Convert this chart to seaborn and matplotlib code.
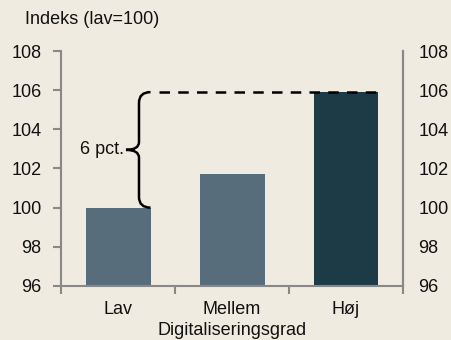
import matplotlib
matplotlib.use("Agg")
import matplotlib.pyplot as plt
from matplotlib.path import Path
from matplotlib.patches import PathPatch
import seaborn as sns
import pandas as pd

categories = ["Lav", "Mellem", "Høj"]
values = [100.0, 101.7, 105.9]
bar_colors = ["#586D7C", "#586D7C", "#1D3A47"]
yticks = [96, 98, 100, 102, 104, 106, 108]
gap_label = "6 pct."

bg = "#F0EBE0"
fs = 13
sns.set_theme(style="white")
plt.rcParams["font.family"] = ["Liberation Sans", "DejaVu Sans"]

df = pd.DataFrame({"grad": categories, "indeks": values})

fig = plt.figure(figsize=(4.52, 3.40), dpi=100, facecolor=bg)
ax = fig.add_axes([0.135, 0.159, 0.7566, 0.691])
ax.set_facecolor(bg)

sns.barplot(data=df, x="grad", y="indeks", hue="grad", palette=bar_colors,
            width=0.57, legend=False, ax=ax, saturation=1, edgecolor="none")

ax.set_ylim(96, 108)
ax.set_xlim(-0.5, 2.5)
ax.set_yticks(yticks)
ax.set_yticklabels([str(t) for t in yticks], fontsize=fs)
ax.set_xticks(range(len(categories)))
ax.set_xticklabels(categories, fontsize=fs)
ax.set_xticks([-0.5, 0.5, 1.5, 2.5], minor=True)
ax.tick_params(axis="x", which="major", length=0, pad=11, colors="#111111")
ax.tick_params(axis="x", which="minor", length=6, width=1.5, color="#888888",
               direction="out", bottom=True)
ax.tick_params(axis="y", length=6, width=1.5, color="#888888", direction="out",
               pad=8, labelcolor="#111111", left=True)
ax.set_xlabel("Digitaliseringsgrad", fontsize=fs, labelpad=3, color="#111111")
ax.set_ylabel("")

ax.spines["top"].set_visible(False)
for side in ["left", "bottom", "right"]:
    ax.spines[side].set_color("#888888")
    ax.spines[side].set_linewidth(1.5)

# right-hand axis mirrors the left scale
ax2 = ax.twinx()
ax2.set_ylim(96, 108)
ax2.set_yticks(yticks)
ax2.set_yticklabels([str(t) for t in yticks], fontsize=fs, color="#111111")
ax2.tick_params(axis="y", length=0, pad=11)
for side in ["top", "left", "bottom"]:
    ax2.spines[side].set_visible(False)
ax2.spines["right"].set_color("#888888")
ax2.spines["right"].set_linewidth(1.5)

# brace spanning the gap between Lav and Høj
low, high = values[0], values[2]
mid = (low + high) / 2
xv, xe, xt = 0.184, 0.285, 0.07
ry, rt = 0.55, 0.4
verts = [
    (xe, high), (xv, high), (xv, high - ry),
    (xv, mid + rt),
    (xv, mid), (xt, mid),
    (xv, mid), (xv, mid - rt),
    (xv, low + ry),
    (xv, low), (xe, low),
]
codes = [Path.MOVETO, Path.CURVE3, Path.CURVE3,
         Path.LINETO,
         Path.CURVE3, Path.CURVE3,
         Path.CURVE3, Path.CURVE3,
         Path.LINETO,
         Path.CURVE3, Path.CURVE3]
ax.add_patch(PathPatch(Path(verts, codes), facecolor="none", edgecolor="black",
                       lw=1.8, capstyle="butt", zorder=5))
ax.plot([0.36, 2.285], [high, high], color="black", lw=1.8,
        linestyle=(0, (4.2, 3.3)), zorder=5)
ax.text(xt - 0.02, mid, gap_label, ha="right", va="center", fontsize=fs,
        color="#111111", zorder=6)

fig.text(25 / 452, 1 - 20 / 340, "Indeks (lav=100)", ha="left", va="center",
         fontsize=fs, color="#111111")

fig.savefig("out.png", dpi=100, facecolor=bg)
